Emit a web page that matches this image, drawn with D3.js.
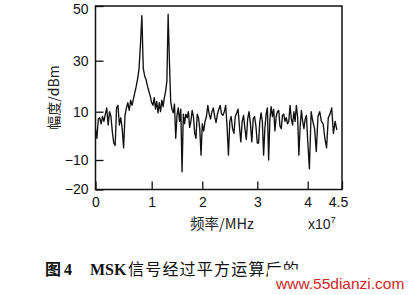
<!DOCTYPE html>
<html>
<head>
<meta charset="utf-8">
<script src="https://cdn.jsdelivr.net/npm/d3@7"></script>
<style>
  body { margin: 0; background: #fff; }
  svg { display: block; }
  .axis text { font-family: "Liberation Sans", Arial, sans-serif; font-size: 14px; fill: #111; }
  .axis line { stroke: #111; stroke-width: 1.3; }
</style>
</head>
<body>
<svg id="chart" width="410" height="295"></svg>
<script>
//============ data =========//
// frequency grid, in units of 1e7 Hz
var freqStart = 0,
  freqStep = 0.025;

// amplitude in dBm
var amplitude = [
  3, -1, 7, 7.5, 5, 8, 6, 9, 11.5, 4.5,
  10, 8, 1.5, -3, -4, 11.5, 12.5, 4.5, 7.5, 3,
  -5, 8.5, 11.5, 13.5, 10.5, 14.5, 12.5, 15, 17.5, 20,
  23, 27, 36, 46.5, 27, 24, 22.5, 20, 18, 16,
  13.5, 12.5, 15.5, 11, 14, 9.5, 13.5, 10, 14.5, 12,
  15.5, 18, 22, 47, 30, 14, 11, 9.5, 13, -1,
  8.5, 11.5, 6, 11, -14, 9, 5, 9, 7.5, 10,
  3.5, 6, 10.5, 8, 1, -1, 9, 7.5, 3, -8,
  5, 2, 6, 8, 12.5, 9, 7, 10, 11.5, 8,
  5.5, 9, 11, 12.5, 9, 8.5, 10, 12.5, 4, -8,
  6, 8, 3, 1, 8, 9.5, 11, 4, -2.5, 6,
  8.5, 3, -1.5, 7, 10, 5, -2.5, 7, 8, 4,
  -3, -3, 6, 9.5, 6, -8, 3, 9, 11.5, -10,
  7, 12, 8, 11, 2, 8, 10, 10.5, 4, 3,
  8.5, 9, 6, 7.5, 5, 6, 12.5, 7, 4.5, 10,
  6, 12.5, 8, -8, 4, 10.5, 6, 3, 7, 8.5,
  -2, -13, 10, 6, 3, -6.5, 8, 10, 6, 5,
  -1, -5, 7.5, 9, 11.5, 1, 6, 2.5
];

var xTicks = [0, 1, 2, 3, 4, 4.5];
var yTicks = [-20, -10, 10, 30, 50];

var yLabel = '幅度/dBm',
  xLabel = '频率/MHz',
  captionKey = 'MSK',
  captionText = '信号经过平方运算后的',
  watermark = 'www.55dianzi.com';

//============ scales =========//
// the scanned axes are slightly uneven, so use piecewise scales
var x = d3.scaleLinear()
  .domain([0, 1, 2, 3, 4, 4.5])
  .range([95.5, 151.7, 202.3, 257.3, 307.7, 342]);

var y = d3.scaleLinear()
  .domain([-20, -10, 10, 30, 50])
  .range([189.5, 160, 111.7, 60.7, 6]);

var svg = d3.select('#chart');

//============ line =========//
var line = d3.line()
  .x(function(d, i) { return x(freqStart + i * freqStep); })
  .y(function(d) { return y(d); });

svg.append('path')
  .datum(amplitude)
  .attr('d', line)
  .attr('fill', 'none')
  .attr('stroke', '#111')
  .attr('stroke-width', 1.35)
  .attr('stroke-linejoin', 'round');

//============ axes =========//
var xAxis = svg.append('g')
  .attr('class', 'axis')
  .attr('transform', 'translate(0,' + y(-20) + ')')
  .call(d3.axisBottom(x).tickValues(xTicks).tickSize(-8).tickSizeOuter(0).tickPadding(8)
    .tickFormat(function(d) { return d; }));
xAxis.select('.domain').remove();
xAxis.selectAll('text').filter(function(d) { return d === 4.5; }).attr('dx', -4);

var yAxis = svg.append('g')
  .attr('class', 'axis')
  .attr('transform', 'translate(' + x(0) + ',0)')
  .call(d3.axisLeft(y).tickValues(yTicks).tickSize(-8).tickSizeOuter(0).tickPadding(7));
yAxis.select('.domain').remove();
// keep the top label inside the picture
yAxis.selectAll('text').filter(function(d) { return d === 50; }).attr('y', 3);

// frame
svg.append('rect')
  .attr('x', x(0))
  .attr('y', y(50))
  .attr('width', x(4.5) - x(0))
  .attr('height', y(-20) - y(50))
  .attr('fill', 'none')
  .attr('stroke', '#111')
  .attr('stroke-width', 1.5);

//============ labels =========//
svg.append('text')
  .attr('transform', 'translate(59,97.5) rotate(-90)')
  .attr('text-anchor', 'middle')
  .style('font-family', '"Noto Sans CJK SC", "Liberation Sans", sans-serif')
  .style('font-size', '14px')
  .style('fill', '#222')
  .text(yLabel);

svg.append('text')
  .attr('x', 190)
  .attr('y', 228.5)
  .style('font-family', '"Noto Sans CJK SC", "Liberation Sans", sans-serif')
  .style('font-size', '14.5px')
  .style('fill', '#222')
  .text(xLabel);

var expo = svg.append('text')
  .attr('x', 308)
  .attr('y', 228.5)
  .style('font-family', '"Liberation Sans", Arial, sans-serif')
  .style('font-size', '14px')
  .style('fill', '#222');
expo.append('tspan').text('x10');
expo.append('tspan').attr('dy', -6).style('font-size', '9.5px').text('7');

// caption
var cap = svg.append('text')
  .attr('x', 45)
  .attr('y', 275)
  .style('font-size', '16px')
  .style('fill', '#111');
cap.append('tspan')
  .style('font-family', '"Noto Sans CJK SC", sans-serif')
  .style('font-weight', 'bold')
  .text('图');
cap.append('tspan')
  .attr('x', 64)
  .style('font-family', '"Liberation Serif", serif')
  .style('font-weight', 'bold')
  .text('4');
cap.append('tspan')
  .attr('x', 90)
  .style('font-family', '"Liberation Serif", serif')
  .style('font-weight', 'bold')
  .text(captionKey);
cap.append('tspan')
  .attr('x', 128)
  .style('font-family', '"Noto Sans CJK SC", sans-serif')
  .style('letter-spacing', '1.2px')
  .text(captionText);

// white patch that cuts off the end of the caption, then the watermark
svg.append('rect')
  .attr('x', 268)
  .attr('y', 269.5)
  .attr('width', 142)
  .attr('height', 26)
  .attr('fill', '#fff');

svg.append('text')
  .attr('x', 276)
  .attr('y', 289)
  .style('font-family', '"Liberation Sans", Arial, sans-serif')
  .style('font-size', '15.5px')
  .style('fill', '#d42424')
  .text(watermark);
</script>
</body>
</html>
